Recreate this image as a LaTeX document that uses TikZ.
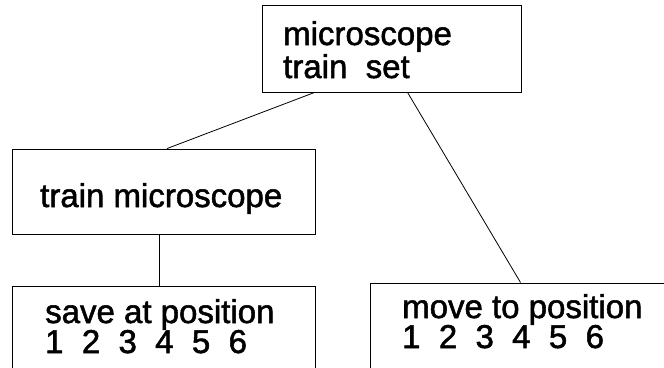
\documentclass[tikz,border=0pt]{standalone}
\usepackage{fontspec}
\setmainfont{Liberation Sans}
% slightly heavier strokes for the labels
\newfontfamily\labelfont[FakeBold=1.6]{Liberation Sans}
\begin{document}
\begin{tikzpicture}[x=1pt,y=-1pt,
  box/.style={draw=black, line width=0.9pt, rectangle, inner sep=0pt},
  link/.style={draw=black, line width=0.8pt},
  lbl/.style={anchor=base west, inner sep=0pt, font=\labelfont\fontsize{33}{33}\selectfont}]
\useasboundingbox (0,0) rectangle (664,367);
\clip (0,0) rectangle (664,367);

% boxes
\node[box, minimum width=259pt, minimum height=87pt] (top) at (391.5,48.5) {};
\node[box, minimum width=303pt, minimum height=85pt] (mid) at (163.5,191.5) {};
\node[box, minimum width=303pt, minimum height=114pt] (save) at (163.5,343) {};
\node[box, minimum width=330pt, minimum height=117pt] (move) at (535,341.5) {};

% labels
\node[lbl] (topA) at (283,45) {microscope};
\node[lbl] (topB) at (283,78) {train~~set};
\node[lbl] (midA) at (40,207) {train microscope};
\node[lbl] (saveA) at (45,323) {save at position};
\node[lbl] (saveB) at (45,353) {1~~2~~3~~4~~5~~6};
\node[lbl] (moveA) at (402,318) {move to position};
\node[lbl] (moveB) at (402,348) {1~~2~~3~~4~~5~~6};

% connectors
\draw[link] ([xshift=53pt]top.south west) -- ([xshift=3.5pt]mid.north);
\draw[link] ([xshift=146pt]top.south west) -- ([xshift=151pt]move.north west);
\draw[link] ([xshift=-4.5pt]mid.south) -- ([xshift=-4.5pt]save.north);
\end{tikzpicture}
\end{document}
